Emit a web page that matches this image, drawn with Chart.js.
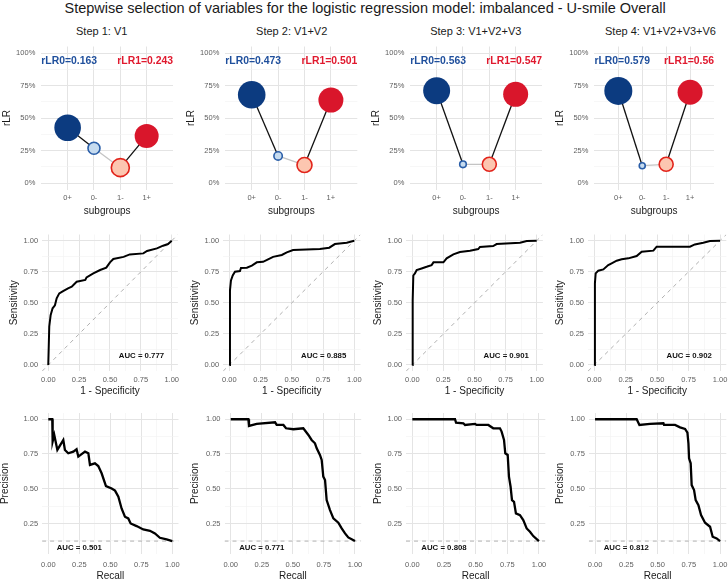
<!DOCTYPE html>
<html><head><meta charset="utf-8">
<script src="https://cdn.jsdelivr.net/npm/chart.js@4.4.1/dist/chart.umd.min.js"></script>
<style>
html,body{margin:0;padding:0;background:#fff;}
body{width:728px;height:582px;overflow:hidden;position:relative;font-family:"Liberation Sans",Arial,sans-serif;}
canvas{position:absolute;left:0;top:0;}
.t{position:absolute;white-space:nowrap;color:#1a1a1a;text-align:center;}
</style></head>
<body>
<script>
// ---------------- DATA ----------------
const mainTitle = 'Stepwise selection of variables for the logistic regression model: imbalanced - U-smile Overall';
const stepTitles = ['Step 1: V1','Step 2: V1+V2','Step 3: V1+V2+V3','Step 4: V1+V2+V3+V6'];
const subgroups = ['0+','0-','1-','1+'];
const rLRTicks = [0,0.25,0.5,0.75,1];
const unitTicks = [0,0.25,0.5,0.75,1];

// U-smile rLR values per subgroup (0+, 0-, 1-, 1+)
const rLR_step1 = [0.425,0.267,0.118,0.362];
const rLR_step2 = [0.679,0.208,0.138,0.638];
const rLR_step3 = [0.710,0.144,0.144,0.682];
const rLR_step4 = [0.708,0.133,0.144,0.698];
// point size (ggplot size-like magnitude) per subgroup
const size_step1 = [13.3,6,9,12];
const size_step2 = [13.8,4.2,7.5,12.5];
const size_step3 = [13.5,3.3,7,12.5];
const size_step4 = [14,3,7,12.5];
const rLR0 = ['0.163','0.473','0.563','0.579'];
const rLR1 = ['0.243','0.501','0.547','0.56'];

// ROC curves
const roc1_fpr = [0,0.008,0.019,0.035,0.054,0.068,0.089,0.12,0.16,0.19,0.23,0.30,0.31,0.365,0.42,0.47,0.50,0.527,0.61,0.66,0.77,0.80,0.88,0.93,0.97,1];
const roc1_tpr = [0,0.31,0.40,0.456,0.48,0.536,0.576,0.595,0.617,0.63,0.67,0.684,0.705,0.737,0.764,0.783,0.826,0.853,0.87,0.89,0.898,0.917,0.938,0.96,0.973,1];
const roc2_fpr = [0,0.005,0.013,0.027,0.045,0.085,0.093,0.14,0.18,0.22,0.27,0.31,0.35,0.42,0.46,0.51,0.725,0.80,0.845,0.94,1];
const roc2_tpr = [0,0.60,0.68,0.72,0.75,0.756,0.78,0.783,0.80,0.826,0.83,0.85,0.87,0.885,0.906,0.925,0.933,0.944,0.973,0.984,1];
const roc3_fpr = [0,0.003,0.008,0.021,0.035,0.075,0.115,0.155,0.17,0.25,0.276,0.33,0.383,0.464,0.53,0.544,0.65,0.678,0.866,0.92,1];
const roc3_tpr = [0,0.52,0.72,0.737,0.764,0.777,0.79,0.804,0.826,0.826,0.858,0.89,0.909,0.92,0.933,0.95,0.957,0.973,0.984,0.997,1];
const roc4_fpr = [0,0.005,0.011,0.032,0.072,0.111,0.138,0.178,0.218,0.271,0.337,0.377,0.47,0.496,0.761,0.80,0.867,0.92,1];
const roc4_tpr = [0,0.657,0.737,0.759,0.769,0.804,0.818,0.839,0.85,0.858,0.877,0.912,0.92,0.952,0.952,0.97,0.984,0.997,1];
const aucROC = ['0.777','0.885','0.901','0.902'];

// Precision-recall curves
const pr1_rec = [0,0.032,0.035,0.048,0.062,0.073,0.089,0.121,0.134,0.161,0.202,0.228,0.242,0.296,0.323,0.336,0.376,0.403,0.43,0.465,0.511,0.538,0.565,0.591,0.618,0.645,0.664,0.712,0.766,0.82,0.86,0.90,0.954,1];
const pr1_prec = [1,1,0.84,0.887,0.827,0.779,0.803,0.851,0.779,0.755,0.767,0.784,0.731,0.767,0.755,0.671,0.683,0.663,0.611,0.519,0.502,0.486,0.442,0.358,0.298,0.286,0.25,0.231,0.207,0.197,0.178,0.147,0.135,0.123];
const pr2_rec = [0,0.142,0.147,0.209,0.357,0.37,0.424,0.445,0.504,0.584,0.625,0.651,0.678,0.692,0.718,0.732,0.745,0.759,0.772,0.799,0.826,0.866,0.893,0.92,0.946,1];
const pr2_prec = [1,1,0.952,0.966,0.978,0.959,0.959,0.935,0.928,0.935,0.887,0.851,0.827,0.791,0.743,0.707,0.587,0.562,0.418,0.346,0.286,0.255,0.214,0.178,0.149,0.123];
const pr3_rec = [0,0.337,0.345,0.403,0.416,0.495,0.508,0.60,0.639,0.692,0.705,0.724,0.734,0.753,0.763,0.776,0.787,0.803,0.818,0.85,0.876,0.903,0.929,0.955,1];
const pr3_prec = [1,1,0.976,0.971,0.959,0.966,0.959,0.959,0.935,0.935,0.911,0.851,0.755,0.743,0.587,0.514,0.418,0.406,0.322,0.31,0.274,0.214,0.19,0.159,0.123];
const pr4_rec = [0,0.333,0.355,0.44,0.547,0.552,0.64,0.68,0.72,0.739,0.747,0.752,0.765,0.773,0.792,0.805,0.827,0.848,0.88,0.92,0.941,0.973,1];
const pr4_prec = [1,1,0.959,0.966,0.971,0.959,0.959,0.942,0.930,0.904,0.827,0.719,0.683,0.526,0.49,0.418,0.382,0.31,0.255,0.226,0.154,0.142,0.123];
const prevalence = 0.123;
const aucPR = ['0.501','0.771','0.808','0.812'];

// ---------------- LAYOUT / STYLE ----------------
const W=728,H=582,FONT='"Liberation Sans", Arial, sans-serif';
const yW=46,xH=34;
const TICK={family:FONT,size:7.5}, TITLE={family:FONT,size:10};
const tickColor='#5e5e5e', titleColor='#1a1a1a';
const BLUE_D='#0c3b80', BLUE_L='#c6dbef', BLUE_B='#2a5ea8', RED_D='#d9162b', RED_L='#fcc6b0', RED_B='#e2231a';
const TXT_BLUE='#1f4f9c', TXT_RED='#e0192e';

const usmileArea=[[41.3,46.5,173,189.5],[225.3,46.5,357.3,189.5],[410.3,46.5,542,189.5],[594.4,46.5,727.3,189.5]];
const rocArea=[[42.1,234.5,177.9,371.2],[223.1,234.5,360.5,371.2],[406.1,234.5,542.9,371.2],[588,234.5,726.3,371.2]];
const prArea=[[42.1,413,178.5,554],[224.5,413,361.2,554],[406,413,545.3,554],[588.8,413,726.3,554]];
const stepTitleX=[101.7,291.7,475.8,660.5];

function addText(txt,cx,cy,size,extra){
  const d=document.createElement('div');d.className='t';d.textContent=txt;
  d.style.fontSize=size+'px';d.style.lineHeight=(size*1.2)+'px';
  d.style.top=(cy-size*0.6)+'px';d.style.left=(cx-300)+'px';d.style.width='600px';
  if(extra)Object.assign(d.style,extra);
  document.body.appendChild(d);
}

const annotPlugin={id:'annot',afterDatasetsDraw(chart){
  const items=(chart.options.plugins.annot||{}).items||[];
  const c=chart.ctx,xs=chart.scales.x,ys=chart.scales.y,ca=chart.chartArea;
  items.forEach(it=>{
    c.save();c.font=it.font;c.fillStyle=it.color;c.textAlign=it.align;c.textBaseline='middle';
    let px = it.edge==='left'?ca.left:it.edge==='right'?ca.right:xs.getPixelForValue(it.x);
    c.fillText(it.text,px,ys.getPixelForValue(it.y));c.restore();
  });
}};

function isMajor(v,majors){return majors.some(m=>Math.abs(m-v)<1e-9);}

function makeChart(p){
  const cv=document.createElement('canvas');cv.width=W;cv.height=H;cv.style.width=W+'px';cv.style.height=H+'px';
  document.body.appendChild(cv);
  const [l,t,r,b]=p.area;
  const lhK=TICK.size*1.2, lhT=TITLE.size*1.2;
  const gridOpts=(majors)=>({drawTicks:false,
    color:ctx=>isMajor(ctx.tick.value,majors)?'#e4e4e4':'#f1f1f1',
    lineWidth:ctx=>isMajor(ctx.tick.value,majors)?1:0.6});
  return new Chart(cv,{
    type:'scatter',
    data:{datasets:p.datasets},
    options:{
      responsive:false,animation:false,devicePixelRatio:1,
      layout:{padding:{left:l-yW,top:t,right:W-r,bottom:H-b-xH}},
      plugins:{legend:{display:false},tooltip:{enabled:false},annot:{items:p.texts}},
      scales:{
        x:{type:'linear',position:'bottom',min:p.x.min,max:p.x.max,
          afterBuildTicks:s=>{s.ticks=p.x.grid.map(v=>({value:v}));},
          afterFit:s=>{s.height=xH;s.paddingLeft=0;s.paddingRight=0;},
          border:{display:false},grid:gridOpts(p.x.majors),
          ticks:{padding:p.x.tickY-b-lhK/2,font:TICK,color:tickColor,maxRotation:0,minRotation:0,autoSkip:false,
            callback:v=>isMajor(v,p.x.majors)?p.x.label(v):''},
          title:{display:true,text:p.x.title,font:TITLE,color:titleColor,padding:{top:0,bottom:b+xH-p.x.titleY-lhT/2}}
        },
        y:{type:'linear',position:'left',min:p.y.min,max:p.y.max,
          afterBuildTicks:s=>{s.ticks=p.y.grid.map(v=>({value:v}));},
          afterFit:s=>{s.width=yW;s.paddingTop=0;s.paddingBottom=0;},
          border:{display:false},grid:gridOpts(p.y.majors),
          ticks:{padding:p.y.tickPad,font:TICK,color:tickColor,autoSkip:false,
            callback:v=>isMajor(v,p.y.majors)?p.y.label(v):''},
          title:{display:true,text:p.y.title,font:TITLE,color:titleColor,padding:{top:p.y.titleX-(l-yW)-lhT/2,bottom:0}}
        }
      }
    },
    plugins:[annotPlugin]
  });
}

// ---------------- BUILD ----------------
addText(mainTitle,364.5,8.5,14.5);
stepTitles.forEach((s,i)=>addText(s,stepTitleX[i],32,11));

const fine=[0,0.125,0.25,0.375,0.5,0.625,0.75,0.875,1];
const fmt2=v=>v.toFixed(2);
const rlrSets=[rLR_step1,rLR_step2,rLR_step3,rLR_step4];
const sizeSets=[size_step1,size_step2,size_step3,size_step4];

rlrSets.forEach((vals,i)=>{
  const area=usmileArea[i];
  const pts=vals.map((v,k)=>({x:k+1,y:v}));
  makeChart({area,
    datasets:[
      {data:pts,showLine:false,pointRadius:sizeSets[i],pointHoverRadius:sizeSets[i],
       pointBackgroundColor:[BLUE_D,BLUE_L,RED_L,RED_D],pointBorderColor:[BLUE_D,BLUE_B,RED_B,RED_D],
       pointBorderWidth:[0,1.6,1.6,0],clip:false},
      {data:pts,showLine:true,pointRadius:0,borderWidth:1.3,borderColor:'#111',tension:0,
       segment:{borderColor:ctx=>ctx.p0DataIndex===1?'#c4c4c4':'#111'}}
    ],
    texts:[
      {text:'rLR0='+rLR0[i],edge:'left',y:0.935,align:'left',color:TXT_BLUE,font:'bold 10.4px '+FONT},
      {text:'rLR1='+rLR1[i],edge:'right',y:0.935,align:'right',color:TXT_RED,font:'bold 10.4px '+FONT}
    ],
    x:{min:0,max:5,grid:[1,2,3,4],majors:[1,2,3,4],label:v=>subgroups[Math.round(v)-1],title:'subgroups',tickY:197.5,titleY:211},
    y:{min:-0.05,max:1.05,grid:fine,majors:rLRTicks,label:v=>Math.round(v*100)+'%',title:'rLR',tickPad:6,titleX:area[0]-34}
  });
});

const rocSets=[[roc1_fpr,roc1_tpr],[roc2_fpr,roc2_tpr],[roc3_fpr,roc3_tpr],[roc4_fpr,roc4_tpr]];
rocSets.forEach(([fx,ty],i)=>{
  const area=rocArea[i];
  makeChart({area,
    datasets:[
      {data:fx.map((v,k)=>({x:v,y:ty[k]})),showLine:true,pointRadius:0,borderWidth:2,borderColor:'#000',tension:0},
      {data:[{x:-0.05,y:-0.05},{x:1.05,y:1.05}],showLine:true,pointRadius:0,borderWidth:1,borderColor:'#b0b0b0',borderDash:[4,4]}
    ],
    texts:[{text:'AUC = '+aucROC[i],x:0.755,y:0.07,align:'center',color:'#111',font:'bold 7.8px '+FONT}],
    x:{min:-0.05,max:1.05,grid:fine,majors:unitTicks,label:fmt2,title:'1 - Specificity',tickY:380,titleY:391.5},
    y:{min:-0.05,max:1.05,grid:fine,majors:unitTicks,label:fmt2,title:'Sensitivity',tickPad:4,titleX:area[0]-28}
  });
});

const prSets=[[pr1_rec,pr1_prec],[pr2_rec,pr2_prec],[pr3_rec,pr3_prec],[pr4_rec,pr4_prec]];
const prTitleX=[5,195,378.3,560.7];
prSets.forEach(([rx,py],i)=>{
  const area=prArea[i];
  makeChart({area,
    datasets:[
      {data:rx.map((v,k)=>({x:v,y:py[k]})),showLine:true,pointRadius:0,borderWidth:2.3,borderColor:'#000',tension:0},
      {data:[{x:-0.05,y:prevalence},{x:1.05,y:prevalence}],showLine:true,pointRadius:0,borderWidth:1,borderColor:'#b0b0b0',borderDash:[4,4]}
    ],
    texts:[{text:'AUC = '+aucPR[i],x:0.25,y:0.075,align:'center',color:'#111',font:'bold 7.8px '+FONT}],
    x:{min:-0.05,max:1.05,grid:fine,majors:unitTicks,label:fmt2,title:'Recall',tickY:565,titleY:576.5},
    y:{min:0.03,max:1.045,grid:[0.125,0.25,0.375,0.5,0.625,0.75,0.875,1],majors:[0.25,0.5,0.75,1],label:fmt2,title:'Precision',tickPad:4,titleX:prTitleX[i]}
  });
});
</script>
</body></html>
